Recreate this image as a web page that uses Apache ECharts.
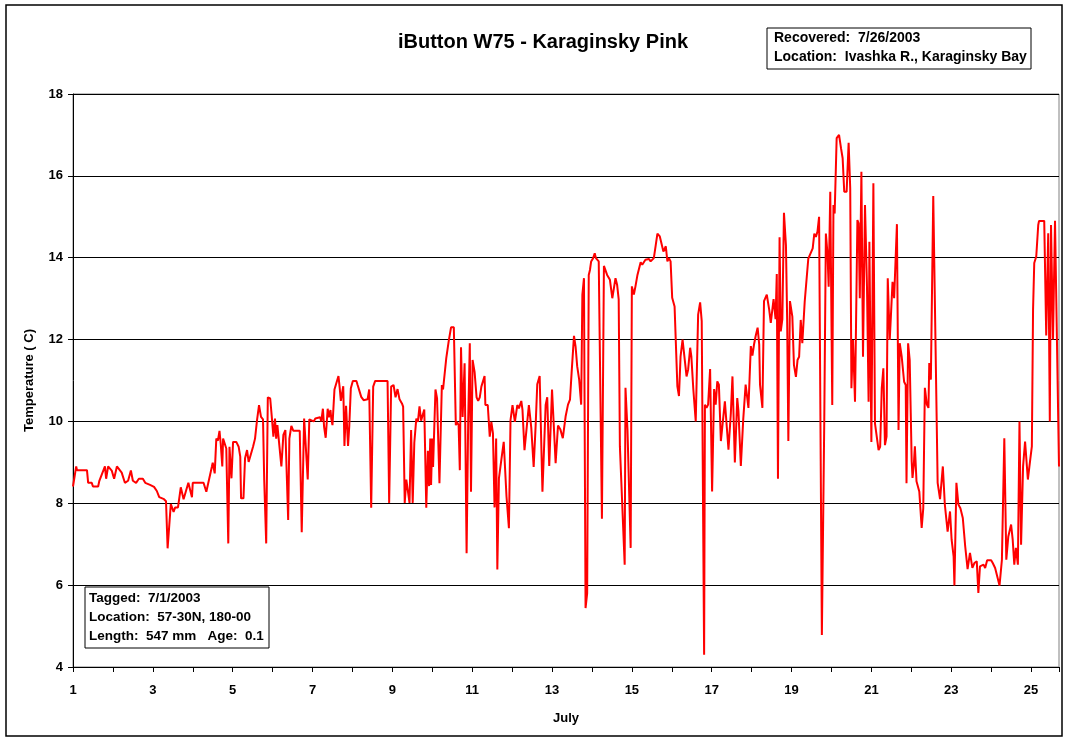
<!DOCTYPE html>
<html>
<head>
<meta charset="utf-8">
<script src="https://cdn.jsdelivr.net/npm/echarts@6/dist/echarts.min.js"></script>
<style>
  html, body { margin: 0; padding: 0; background: #fff; }
  #main { width: 1068px; height: 740px; }
</style>
</head>
<body>
<div id="main"></div>
<script>
// day of July (fractional) and temperature (C)
var days = [
  1.00, 1.08, 1.10, 1.35, 1.38, 1.47, 1.50, 1.63, 1.66, 1.72, 1.80, 1.83, 1.88, 1.93, 1.97,
  2.03, 2.10, 2.15, 2.22, 2.30, 2.38, 2.45, 2.50, 2.58, 2.65, 2.75, 2.81, 2.93,
  3.03, 3.10, 3.16, 3.28, 3.33, 3.37, 3.45, 3.52, 3.56, 3.63, 3.70, 3.77, 3.83, 3.89, 3.98,
  4.00, 4.27, 4.34, 4.39, 4.44, 4.48, 4.50, 4.55, 4.59, 4.63, 4.67, 4.70, 4.74, 4.76, 4.80, 4.84, 4.89, 4.92, 4.94, 4.97,
  5.01, 5.09, 5.15, 5.19, 5.21, 5.27, 5.31, 5.36, 5.40, 5.44, 5.51, 5.56, 5.61, 5.66, 5.71, 5.76, 5.79, 5.84, 5.88, 5.94, 5.98,
  6.02, 6.06, 6.09, 6.12, 6.17, 6.22, 6.27, 6.32, 6.36, 6.39, 6.42, 6.47, 6.52, 6.68, 6.73, 6.79, 6.84, 6.88, 6.92, 6.96,
  7.03, 7.07, 7.11, 7.19, 7.22, 7.26, 7.29, 7.33, 7.38, 7.41, 7.45, 7.47, 7.50, 7.55, 7.60, 7.65, 7.68, 7.71, 7.74, 7.77,
  7.80, 7.84, 7.89, 7.92, 7.96,
  8.01, 8.10, 8.13, 8.18, 8.22, 8.28, 8.32, 8.38, 8.42, 8.47, 8.52, 8.57, 8.88, 8.92, 8.97,
  9.03, 9.08, 9.13, 9.18, 9.24, 9.27, 9.31, 9.35, 9.39, 9.43, 9.47, 9.51, 9.55, 9.60, 9.64, 9.68, 9.72, 9.76, 9.80, 9.85,
  9.89, 9.92, 9.95, 9.97,
  10.00, 10.02, 10.08, 10.12, 10.18, 10.24, 10.27, 10.30, 10.35, 10.41, 10.47, 10.54, 10.59, 10.62, 10.66, 10.69, 10.72,
  10.76, 10.78, 10.81, 10.86, 10.90, 10.94, 10.97,
  11.01, 11.06, 11.11, 11.15, 11.19, 11.23, 11.31, 11.33, 11.39, 11.44, 11.48, 11.52, 11.56, 11.60, 11.63, 11.67, 11.73,
  11.79, 11.86, 11.92, 11.96,
  12.01, 12.07, 12.13, 12.17, 12.23, 12.26, 12.31, 12.36, 12.42, 12.48, 12.54, 12.59, 12.63, 12.69, 12.76, 12.84, 12.88, 12.93,
  13.00, 13.09, 13.15, 13.21, 13.27, 13.34, 13.40, 13.45, 13.49, 13.55, 13.59, 13.63, 13.68, 13.73, 13.76, 13.80, 13.84,
  13.88, 13.92, 13.95, 13.98,
  14.03, 14.07, 14.10, 14.17, 14.22, 14.25, 14.30, 14.34, 14.38, 14.45, 14.51, 14.53, 14.59, 14.63, 14.67, 14.70, 14.75,
  14.82, 14.84, 14.89, 14.92, 14.97,
  15.00, 15.05, 15.09, 15.14, 15.18, 15.22, 15.26, 15.30, 15.34, 15.39, 15.43, 15.47, 15.51, 15.55, 15.60, 15.64, 15.70,
  15.75, 15.79, 15.85, 15.89, 15.93, 15.97,
  16.01, 16.07, 16.14, 16.18, 16.22, 16.27, 16.31, 16.37, 16.41, 16.46, 16.49, 16.54, 16.60, 16.66, 16.71, 16.75, 16.81,
  16.83, 16.87, 16.91, 16.96,
  17.01, 17.06, 17.10, 17.14, 17.18, 17.23, 17.27, 17.33, 17.38, 17.42, 17.48, 17.52, 17.58, 17.64, 17.67, 17.73, 17.79,
  17.85, 17.88, 17.92, 17.98,
  18.02, 18.06, 18.10, 18.15, 18.19, 18.21, 18.27, 18.31, 18.38, 18.44, 18.48, 18.50, 18.55, 18.60, 18.63, 18.66, 18.70,
  18.73, 18.77, 18.81, 18.86, 18.89, 18.92, 18.96,
  19.02, 19.06, 19.11, 19.15, 19.19, 19.23, 19.27, 19.33, 19.38, 19.42, 19.47, 19.53, 19.57, 19.61, 19.65, 19.69, 19.76,
  19.82, 19.86, 19.90, 19.93, 19.97,
  20.02, 20.05, 20.08, 20.13, 20.19, 20.24, 20.28, 20.32, 20.38, 20.43, 20.47, 20.50, 20.54, 20.57, 20.59, 20.65, 20.68,
  20.71, 20.75, 20.79, 20.84, 20.89, 20.93, 20.95,
  21.00, 21.05, 21.09, 21.14, 21.18, 21.22, 21.26, 21.30, 21.34, 21.38, 21.41, 21.46, 21.53, 21.57, 21.64, 21.68, 21.71,
  21.76, 21.82, 21.86, 21.88, 21.92, 21.96,
  22.01, 22.03, 22.06, 22.09, 22.13, 22.16, 22.20, 22.26, 22.30, 22.34, 22.39, 22.43, 22.45, 22.49, 22.52, 22.55, 22.60,
  22.66, 22.72, 22.79, 22.84, 22.91, 22.97,
  23.01, 23.06, 23.08, 23.13, 23.18, 23.23, 23.29, 23.35, 23.41, 23.47, 23.53, 23.58, 23.64, 23.68, 23.72, 23.76, 23.81,
  23.85, 23.90,
  24.00, 24.04, 24.10, 24.15, 24.21, 24.27, 24.33, 24.38, 24.43, 24.50, 24.54, 24.58, 24.62, 24.67, 24.71, 24.75, 24.80,
  24.85, 24.92, 24.98,
  25.02, 25.05, 25.08, 25.13, 25.18, 25.20, 25.33, 25.38, 25.43, 25.47, 25.50, 25.55, 25.60, 25.70
];

var temps = [
  8.41, 8.90, 8.81, 8.81, 8.50, 8.50, 8.41, 8.41, 8.55, 8.70, 8.90, 8.60, 8.90, 8.90, 8.80,
  8.60, 8.90, 8.90, 8.75, 8.50, 8.55, 8.80, 8.55, 8.50, 8.60, 8.60, 8.50, 8.45,
  8.40, 8.30, 8.15, 8.10, 8.05, 6.90, 7.98, 7.79, 7.90, 7.90, 8.39, 8.10, 8.30, 8.50, 8.15,
  8.50, 8.50, 8.28, 8.50, 8.53, 8.90, 8.99, 8.73, 9.58, 9.53, 9.77, 9.46, 8.90, 9.58, 9.58, 9.34, 7.02, 9.38, 9.34, 8.61,
  9.50, 9.50, 9.38, 9.14, 8.12, 8.12, 9.10, 9.30, 9.01, 9.01, 9.38, 9.58, 10.03, 10.40, 10.11, 10.05, 8.57, 7.02, 10.59, 10.56, 10.11,
  9.63, 10.07, 9.58, 9.91, 9.91, 8.90, 9.67, 9.79, 9.75, 7.59, 9.58, 9.89, 9.77, 9.77, 7.29, 10.07, 10.03, 8.58, 10.05, 10.05,
  10.00, 10.07, 10.10, 10.10, 10.00, 10.31, 9.87, 9.60, 10.31, 10.10, 10.28, 10.07, 9.91, 10.78, 10.81, 11.11, 10.83, 10.50, 10.52, 10.86,
  9.40, 10.38, 9.40, 9.87, 10.81,
  10.99, 10.99, 10.89, 10.86, 10.60, 10.52, 10.50, 10.54, 10.78, 7.89, 10.85, 10.99, 10.99, 8.01, 10.85,
  10.89, 10.59, 10.79, 10.54, 10.44, 10.36, 8.01, 8.58, 8.58, 8.01, 9.79, 8.01, 9.48, 10.07, 9.99, 10.37, 10.02, 10.03, 10.29, 7.89,
  9.28, 8.42, 9.58, 8.45,
  9.58, 8.89, 10.78, 10.56, 8.49, 10.89, 10.78, 10.78, 11.54, 11.95, 12.30, 12.30, 9.91, 9.99, 9.91, 8.81, 11.81,
  10.11, 10.11, 11.42, 6.78, 10.03, 11.91, 8.28,
  11.50, 11.21, 10.59, 10.50, 10.59, 10.85, 11.11, 10.40, 10.40, 9.63, 9.99, 9.71, 7.90, 9.58, 6.38, 8.61, 9.06,
  9.50, 8.16, 7.39, 10.03,
  10.40, 9.99, 10.40, 10.32, 10.50, 10.28, 9.30, 9.30, 10.40, 9.85, 8.89, 9.91, 10.91, 11.11, 8.28, 10.40, 10.59, 8.91,
  10.78, 8.98, 9.90, 9.80, 9.59, 10.12, 10.41, 10.53, 11.18, 12.09, 11.83, 11.35, 11.02, 10.41, 13.10, 13.50, 5.44,
  5.80, 13.58, 13.70, 13.91,
  13.99, 14.11, 13.99, 13.91, 13.89, 7.62, 13.80, 13.80, 13.58, 13.46, 13.01, 13.01, 13.50, 13.34, 12.98, 9.39, 9.39,
  6.50, 10.82, 9.80, 9.80, 6.91,
  13.30, 13.10, 13.30, 13.58, 13.60, 13.89, 13.83, 13.89, 13.95, 13.99, 13.97, 13.91, 13.91, 13.99, 14.32, 14.59, 14.52,
  14.48, 14.15, 14.28, 13.91, 13.99, 13.91,
  13.02, 12.81, 10.86, 10.62, 11.59, 12.00, 12.00, 11.10, 11.27, 11.80, 11.59, 10.78, 10.00, 12.61, 12.91, 12.45, 4.30,
  10.41, 10.33, 10.41, 11.28,
  8.29, 10.79, 10.41, 10.98, 10.90, 9.52, 9.56, 10.49, 9.84, 9.31, 10.21, 11.10, 9.00, 10.57, 10.25, 8.91, 10.05,
  10.90, 10.66, 10.33, 11.84,
  11.61, 11.88, 12.08, 12.29, 11.88, 10.90, 10.33, 12.94, 13.10, 12.73, 12.41, 12.41, 12.99, 12.50, 13.60, 8.60, 14.50,
  12.20, 12.50, 15.10, 14.30, 12.50, 9.52, 12.94,
  12.56, 11.38, 11.09, 11.50, 11.58, 12.48, 11.91, 12.93, 12.97, 13.98, 14.01, 14.23, 14.59, 14.51, 14.64, 15.00, 4.78,
  10.03, 14.59, 14.11, 13.29, 15.61,
  10.40, 15.29, 15.08, 16.92, 17.00, 16.67, 16.43, 15.61, 15.61, 16.81, 15.69, 10.81, 11.99, 11.99, 10.48, 14.92, 14.84,
  13.01, 16.10, 11.58, 15.29, 13.29, 10.48, 14.39,
  9.50, 15.82, 9.95, 9.99, 9.30, 9.38, 10.81, 11.30, 9.42, 9.63, 13.50, 11.99, 13.41, 13.01, 14.82, 9.79, 11.91,
  11.58, 10.97, 10.89, 8.49, 11.91, 11.50,
  9.02, 8.62, 8.90, 9.39, 8.54, 8.58, 8.29, 7.40, 7.88, 10.82, 10.41, 10.33, 11.43, 11.02, 11.02, 15.51, 15.51,
  8.50, 8.10, 8.90, 7.97, 7.31, 7.80,
  7.11, 6.70, 5.99, 8.50, 7.97, 7.88, 7.64, 6.95, 6.39, 6.79, 6.42, 6.54, 6.58, 5.81, 6.46, 6.50, 6.50,
  6.42, 6.61,
  6.61, 6.54, 6.42, 6.39, 5.99, 6.62, 9.59, 6.62, 7.19, 7.48, 7.11, 6.50, 6.91, 6.50, 10.00, 6.99, 8.90,
  9.51, 8.58, 9.07,
  9.39, 12.73, 13.87, 14.03, 14.80, 14.90, 14.90, 12.10, 14.60, 10.00, 14.80, 12.00, 14.90, 8.90
];

var xMin = 1, xMax = 25.7;
var yMin = 4, yMax = 18, yStep = 2;

var tagNote = ['Tagged:  7/1/2003', 'Location:  57-30N, 180-00', 'Length:  547 mm   Age:  0.1'];
var recoverNote = ['Recovered:  7/26/2003', 'Location:  Ivashka R., Karaginsky Bay'];

var FONT = '"Liberation Sans", Arial, sans-serif';

var myChart = echarts.init(document.getElementById('main'));

var option = {
    backgroundColor: '#fff',
    animation: false,
    title: {
        text: 'iButton W75 - Karaginsky Pink',
        left: 538,
        top: 27,
        textAlign: 'center',
        textStyle: { fontFamily: FONT, fontSize: 20, fontWeight: 'bold', color: '#000' }
    },
    grid: {
        left: 73, right: 9, top: 94, bottom: 73,
        show: true,
        borderColor: '#808080',
        borderWidth: 1
    },
    xAxis: {
        type: 'value',
        min: xMin,
        max: xMax,
        interval: 1,
        name: 'July',
        nameLocation: 'middle',
        nameGap: 45,
        nameTextStyle: { fontFamily: FONT, fontSize: 13, fontWeight: 'bold', color: '#000' },
        axisLine: { lineStyle: { color: '#000', width: 1 } },
        axisTick: { length: 5, lineStyle: { color: '#000' } },
        axisLabel: {
            margin: 17,
            fontFamily: FONT, fontSize: 13, fontWeight: 'bold', color: '#000',
            formatter: function (v) {
                return (Math.abs(v - Math.round(v)) < 1e-6 && Math.round(v) % 2 === 1) ? String(Math.round(v)) : '';
            }
        },
        splitLine: { show: false }
    },
    yAxis: {
        type: 'value',
        min: yMin,
        max: yMax,
        interval: yStep,
        name: 'Temperature ( C)',
        nameLocation: 'middle',
        nameGap: 37,
        nameTextStyle: { fontFamily: FONT, fontSize: 13, fontWeight: 'bold', color: '#000' },
        axisLine: { show: true, lineStyle: { color: '#000', width: 1 } },
        axisTick: { show: true, length: 5, lineStyle: { color: '#000' } },
        axisLabel: { margin: 10, fontFamily: FONT, fontSize: 13, fontWeight: 'bold', color: '#000' },
        splitLine: { show: true, lineStyle: { color: '#000', width: 1 } }
    },
    series: [{
        name: 'W75',
        type: 'line',
        showSymbol: false,
        symbol: 'none',
        lineStyle: { color: '#ff0000', width: 2 },
        itemStyle: { color: '#ff0000' },
        data: days.map(function (d, i) { return [d, temps[i]]; })
    }],
    graphic: [
        // chart area frame
        { type: 'rect', z: 100, silent: true,
          shape: { x: 6, y: 5, width: 1056, height: 731 },
          style: { fill: null, stroke: '#000', lineWidth: 1.5 } },
        // recovered box
        { type: 'rect', z: 100,
          shape: { x: 767, y: 28, width: 264, height: 41 },
          style: { fill: '#fff', stroke: '#000', lineWidth: 1 } },
        { type: 'text', z: 101, left: 774, top: 31,
          style: { text: recoverNote[0], fontFamily: FONT, fontSize: 14, fontWeight: 'bold', fill: '#000' } },
        { type: 'text', z: 101, left: 774, top: 50,
          style: { text: recoverNote[1], fontFamily: FONT, fontSize: 14, fontWeight: 'bold', fill: '#000' } },
        // tagged box
        { type: 'rect', z: 100,
          shape: { x: 85, y: 587, width: 184, height: 61 },
          style: { fill: '#fff', stroke: '#000', lineWidth: 1 } },
        { type: 'text', z: 101, left: 89, top: 591,
          style: { text: tagNote[0], fontFamily: FONT, fontSize: 13.5, fontWeight: 'bold', fill: '#000' } },
        { type: 'text', z: 101, left: 89, top: 610,
          style: { text: tagNote[1], fontFamily: FONT, fontSize: 13.5, fontWeight: 'bold', fill: '#000' } },
        { type: 'text', z: 101, left: 89, top: 629,
          style: { text: tagNote[2], fontFamily: FONT, fontSize: 13.5, fontWeight: 'bold', fill: '#000' } }
    ]
};

myChart.setOption(option);
</script>
</body>
</html>
